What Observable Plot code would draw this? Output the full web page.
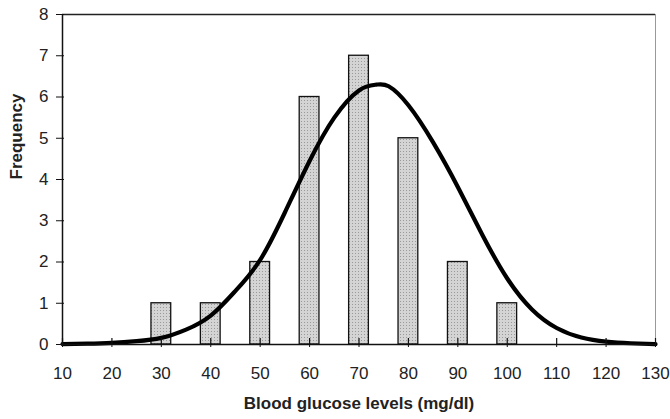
<!DOCTYPE html>
<html>
<head>
<meta charset="utf-8">
<script src="https://cdn.jsdelivr.net/npm/d3@7"></script>
<script src="https://cdn.jsdelivr.net/npm/@observablehq/plot@0.6"></script>
<style>
  html, body { margin: 0; padding: 0; background: #fff; }
</style>
</head>
<body>
<div id="chart"></div>
<script>
// Histogram data
const bins = [30, 40, 50, 60, 70, 80, 90, 100];
const freq = [1, 1, 2, 6, 7, 5, 2, 1];

// Fitted normal curve
const curveX = [10, 15, 20, 25, 30, 35, 40, 45, 50, 55, 60, 65, 70, 73.5, 76, 80, 85, 90, 95, 100, 105, 110, 115, 120, 125, 130];
const curveY = [0.01, 0.02, 0.04, 0.08, 0.16, 0.36, 0.7, 1.3, 2.05, 3.2, 4.45, 5.5, 6.16, 6.3, 6.26, 5.8, 4.9, 3.82, 2.65, 1.6, 0.85, 0.4, 0.17, 0.07, 0.03, 0.01];

// Axis ticks
const xTicks = [10, 20, 30, 40, 50, 60, 70, 80, 90, 100, 110, 120, 130];
const yTicks = [0, 1, 2, 3, 4, 5, 6, 7, 8];

const xTitle = "Blood glucose levels (mg/dl)";
const yTitle = "Frequency";

const bars = bins.map((b, i) => ({x: b, f: freq[i]}));
const curve = curveX.map((x, i) => ({x, y: curveY[i]}));
const halfWidth = 2;

const W = 670, H = 419, mL = 62, mR = 15, mT = 14, mB = 75;
const frameW = W - mL - mR, frameH = H - mT - mB;

const chart = Plot.plot({
  width: W,
  height: H,
  marginLeft: mL,
  marginRight: mR,
  marginTop: mT,
  marginBottom: mB,
  style: {fontFamily: "'Liberation Sans', Arial, sans-serif", fontSize: "17px", color: "#222", background: "#fff"},
  x: {domain: [10, 130]},
  y: {domain: [0, 8]},
  marks: [
    Plot.rectY(bars, {x1: d => d.x - halfWidth, x2: d => d.x + halfWidth, y: "f", fill: "url(#stipple)", stroke: "#111", strokeWidth: 1.3}),
    Plot.ruleY([8], {stroke: "#222", strokeWidth: 1.5}),
    Plot.ruleX([130], {stroke: "#999", strokeWidth: 1}),
    Plot.line(curve, {x: "x", y: "y", curve: "natural", stroke: "#000", strokeWidth: 4.2}),
    Plot.ruleY([0], {stroke: "#111", strokeWidth: 1.5}),
    Plot.ruleX([10], {stroke: "#111", strokeWidth: 1.5}),
    Plot.axisX(xTicks, {tickSize: 3, tickPadding: 19, label: null, stroke: "#111", fill: "#222"}),
    Plot.tickX(xTicks, {x: d => d, insetTop: frameH - 6, stroke: "#111", strokeWidth: 1.2}),
    Plot.axisY(yTicks, {tickSize: 6, tickPadding: 8, label: null, stroke: "#111", fill: "#222"}),
    Plot.tickY(yTicks, {y: d => d, insetRight: frameW - 2, stroke: "#111", strokeWidth: 1.2}),
    Plot.text([xTitle], {frameAnchor: "bottom", dy: 64, fontWeight: "bold", fontSize: 17, fill: "#222"}),
    Plot.text([yTitle], {frameAnchor: "left", dx: -46, rotate: -90, fontWeight: "bold", fontSize: 17, fill: "#222"})
  ]
});

// Stipple pattern for the bars
const ns = "http://www.w3.org/2000/svg";
const defs = document.createElementNS(ns, "defs");
const pat = document.createElementNS(ns, "pattern");
pat.setAttribute("id", "stipple");
pat.setAttribute("patternUnits", "userSpaceOnUse");
pat.setAttribute("width", "3");
pat.setAttribute("height", "3");
const bg = document.createElementNS(ns, "rect");
bg.setAttribute("width", "3"); bg.setAttribute("height", "3"); bg.setAttribute("fill", "#d4d4d4");
const dot = document.createElementNS(ns, "rect");
dot.setAttribute("x", "1"); dot.setAttribute("y", "1");
dot.setAttribute("width", "1"); dot.setAttribute("height", "1"); dot.setAttribute("fill", "#999");
pat.appendChild(bg); pat.appendChild(dot);
defs.appendChild(pat);
chart.insertBefore(defs, chart.firstChild);

document.getElementById("chart").appendChild(chart);
</script>
</body>
</html>
